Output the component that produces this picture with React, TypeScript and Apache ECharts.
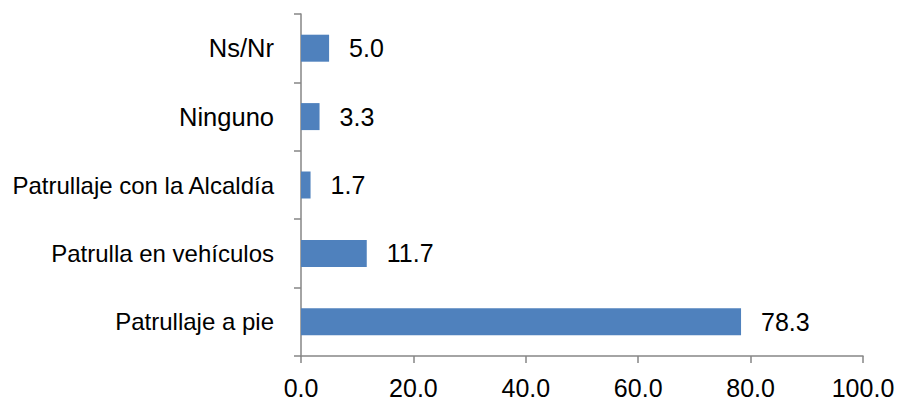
import React, { useEffect, useRef } from "react";
import * as echarts from "echarts";

const categories = [
  "Patrullaje a pie",
  "Patrulla en vehículos",
  "Patrullaje con la Alcaldía",
  "Ninguno",
  "Ns/Nr",
];
const values = [78.3, 11.7, 1.7, 3.3, 5.0];
const xMin = 0;
const xMax = 100;
const xInterval = 20;

export default function App() {
  const ref = useRef<HTMLDivElement>(null);
  useEffect(() => {
    if (!ref.current) return;
    const chart = echarts.init(ref.current, null, { renderer: "svg" });
    const font = "Liberation Sans, Arial, sans-serif";
    chart.setOption({
      animation: false,
      backgroundColor: "#ffffff",
      grid: {
        left: 301,
        right: 41,
        top: 14,
        bottom: 47,
        containLabel: false,
        outerBoundsMode: "none",
      },
      xAxis: {
        type: "value",
        min: xMin,
        max: xMax,
        interval: xInterval,
        splitLine: { show: false },
        axisLine: { show: true, lineStyle: { color: "#868686", width: 1.5 } },
        axisTick: { show: true, length: 7, lineStyle: { color: "#868686", width: 1.5 } },
        axisLabel: {
          color: "#000",
          fontFamily: font,
          fontSize: 25,
          margin: 19,
          formatter: (v: number) => v.toFixed(1),
        },
      },
      yAxis: {
        type: "category",
        data: categories.map((c) => ({
          value: c,
          textStyle: { fontSize: c.length > 10 ? 24 : 25.5 },
        })),
        axisLine: { show: true, lineStyle: { color: "#868686", width: 1.5 } },
        axisTick: { show: true, length: 7, lineStyle: { color: "#868686", width: 1.5 } },
        axisLabel: {
          color: "#000",
          fontFamily: font,
          fontSize: 24,
          margin: 27,
        },
      },
      series: [
        {
          type: "bar",
          data: values,
          barWidth: 27,
          itemStyle: { color: "#4F81BD" },
          label: {
            show: true,
            position: "right",
            distance: 20,
            color: "#000",
            fontFamily: font,
            fontSize: 25,
            formatter: (p: any) => Number(p.value).toFixed(1),
          },
        },
      ],
    });
    return () => chart.dispose();
  }, []);
  return (
    <div
      ref={ref}
      style={{ position: "fixed", left: 0, top: 0, width: 904, height: 403 }}
    />
  );
}
